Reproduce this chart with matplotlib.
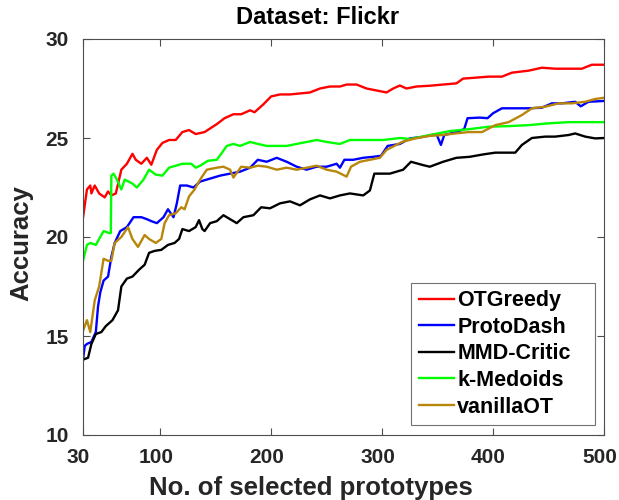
import matplotlib
matplotlib.use("Agg")
import matplotlib.pyplot as plt
import matplotlib.transforms as mtransforms

plt.rcParams['font.family'] = ['Liberation Sans', 'DejaVu Sans']
plt.rcParams['font.weight'] = 'bold'

# values
x_otgreedy = [30, 32, 34, 37, 38, 41, 45, 50, 53, 56, 60, 65, 70, 75, 78, 83, 88, 92, 97, 102, 108, 114,
              120, 126, 132, 140, 151, 158, 166, 173, 181, 185, 193, 200, 208, 217, 226, 235, 244, 253,
              262, 268, 277, 286, 295, 304, 310, 316, 322, 331, 343, 355, 367, 373, 385, 396, 408, 417,
              432, 444, 456, 468, 480, 489, 500]
y_otgreedy = [20.8, 21.6, 22.4, 22.6, 22.2, 22.6, 22.2, 22.0, 22.3, 22.1, 22.2, 23.4, 23.7, 24.2, 23.9,
              23.7, 24.0, 23.65, 24.4, 24.75, 24.9, 24.9, 25.3, 25.4, 25.2, 25.3, 25.7, 26.0, 26.2, 26.2,
              26.4, 26.3, 26.7, 27.1, 27.2, 27.2, 27.25, 27.3, 27.5, 27.6, 27.6, 27.7, 27.7, 27.5, 27.4,
              27.3, 27.5, 27.65, 27.5, 27.6, 27.64, 27.7, 27.76, 28.0, 28.05, 28.1, 28.1, 28.3, 28.4,
              28.55, 28.5, 28.5, 28.5, 28.7, 28.7]

x_protodash = [30, 32, 34, 38, 42, 44, 46, 49, 53, 56, 59, 64, 70, 76, 83, 88, 92, 97, 103, 107, 112, 115,
               118, 124, 130, 136, 145, 154, 163, 172, 181, 188, 196, 205, 214, 223, 232, 241, 250, 259,
               262, 266, 274, 283, 292, 299, 305, 316, 325, 337, 349, 353, 356, 367, 374, 377, 388, 395,
               400, 408, 420, 432, 444, 453, 462, 474, 479, 486, 500]
y_protodash = [13.6, 14.5, 14.6, 14.7, 15.2, 16.5, 17.2, 17.8, 18.0, 19.0, 19.7, 20.3, 20.5, 21.0, 21.0,
               20.9, 20.8, 20.7, 21.0, 21.4, 21.0, 21.7, 22.6, 22.6, 22.5, 22.8, 22.95, 23.1, 23.2, 23.3,
               23.5, 23.9, 23.8, 24.0, 23.8, 23.55, 23.4, 23.55, 23.55, 23.7, 23.5, 23.9, 23.9, 24.0,
               24.05, 24.1, 24.6, 24.7, 24.98, 25.06, 25.2, 24.65, 25.15, 25.3, 25.45, 26.0, 26.03, 26.0,
               26.25, 26.5, 26.5, 26.5, 26.53, 26.75, 26.75, 26.83, 26.6, 26.83, 26.87]

x_mmdcritic = [30, 35, 38, 42, 47, 51, 57, 62, 65, 70, 75, 81, 86, 90, 95, 101, 107, 113, 117, 120, 126,
               132, 135, 138, 140, 145, 151, 157, 163, 169, 175, 184, 191, 199, 208, 217, 226, 235, 244,
               253, 262, 271, 283, 289, 293, 299, 307, 316, 319, 326, 337, 343, 355, 367, 379, 391, 402,
               420, 426, 435, 447, 456, 468, 474, 483, 492, 500]
y_mmdcritic = [13.8, 13.9, 14.6, 15.1, 15.2, 15.5, 15.8, 16.3, 17.5, 17.9, 18.0, 18.35, 18.6, 19.2, 19.3,
               19.35, 19.6, 19.7, 19.9, 20.4, 20.3, 20.5, 20.85, 20.4, 20.3, 20.7, 20.8, 21.1, 20.9, 20.7,
               21.0, 21.1, 21.5, 21.45, 21.7, 21.8, 21.6, 21.9, 22.1, 21.95, 22.1, 22.2, 22.1, 22.35,
               23.2, 23.2, 23.2, 23.35, 23.4, 23.8, 23.63, 23.55, 23.8, 24.0, 24.05, 24.17, 24.26, 24.26,
               24.65, 25.0, 25.07, 25.07, 25.15, 25.23, 25.07, 24.98, 25.0]

x_kmedoids = [30, 34, 37, 42, 46, 49, 54, 55.5, 56, 58, 61, 65, 68, 75, 79, 85, 90, 96, 102, 108, 114,
              120, 128, 132, 136, 143, 151, 155, 160, 166, 172, 181, 188, 196, 205, 214, 223, 232, 241,
              250, 262, 271, 286, 301, 316, 325, 343, 361, 379, 396, 414, 432, 450, 468, 486, 500]
y_kmedoids = [18.7, 19.6, 19.7, 19.6, 20.0, 20.3, 20.2, 20.2, 23.1, 23.2, 22.9, 22.4, 22.9, 22.7, 22.5,
              22.9, 23.4, 23.15, 23.1, 23.5, 23.6, 23.7, 23.7, 23.5, 23.6, 23.85, 23.9, 24.2, 24.6, 24.7,
              24.6, 24.8, 24.7, 24.6, 24.6, 24.6, 24.7, 24.8, 24.9, 24.8, 24.7, 24.9, 24.9, 24.9, 25.0,
              24.95, 25.15, 25.35, 25.45, 25.57, 25.6, 25.65, 25.74, 25.8, 25.8, 25.8]

x_vanillaot = [30, 34, 37, 41, 45, 49, 53, 56, 59, 65, 71, 75, 80, 86, 90, 96, 101, 104, 108, 114, 119,
               122, 126, 131, 136, 142, 151, 157, 163, 166, 173, 181, 188, 196, 205, 214, 223, 232, 241,
               250, 259, 268, 272, 280, 289, 298, 304, 318, 330, 342, 354, 366, 378, 390, 402, 414, 426,
               435, 447, 459, 471, 483, 492, 500]
y_vanillaot = [15.2, 15.8, 15.2, 16.8, 17.5, 18.9, 18.8, 18.8, 19.7, 20.0, 20.5, 19.9, 19.5, 20.1, 19.9,
               19.7, 19.9, 20.7, 21.1, 21.2, 21.5, 21.4, 22.05, 22.4, 22.9, 23.4, 23.5, 23.55, 23.4, 23.0,
               23.55, 23.5, 23.6, 23.55, 23.4, 23.5, 23.4, 23.5, 23.6, 23.4, 23.3, 23.05, 23.55, 23.8,
               23.9, 24.0, 24.4, 24.8, 24.98, 25.1, 25.15, 25.23, 25.3, 25.3, 25.65, 25.8, 26.16, 26.5,
               26.58, 26.75, 26.75, 26.83, 26.97, 27.03]

x_ticks = [30, 100, 200, 300, 400, 500]
y_ticks = [10, 15, 20, 25, 30]

series = [
    ("OTGreedy", x_otgreedy, y_otgreedy, "#ff0000"),
    ("ProtoDash", x_protodash, y_protodash, "#0000ff"),
    ("MMD-Critic", x_mmdcritic, y_mmdcritic, "#000000"),
    ("k-Medoids", x_kmedoids, y_kmedoids, "#00ff00"),
    ("vanillaOT", x_vanillaot, y_vanillaot, "#b8860b"),
]

fig = plt.figure(figsize=(6.19, 5.0), dpi=100)
ax = fig.add_axes([0.1333, 0.13, 0.8425, 0.792])

for name, xs, ys, col in series:
    ax.plot(xs, ys, color=col, linewidth=1.7, label=name)

ax.set_xlim(30, 500)
ax.set_ylim(10, 30)
ax.set_xticks(x_ticks)
ax.set_yticks(y_ticks)
ax.tick_params(direction='in', length=5, width=0.8, top=True, right=True,
               labelsize=15, colors='0.3', labelcolor='0.15')
ax.tick_params(axis='x', pad=9.5)
ax.tick_params(axis='y', pad=10)
# x tick labels sit a few pixels left of their ticks in the reference
shift = mtransforms.ScaledTranslation(-0.045, 0, fig.dpi_scale_trans)
for lab in ax.get_xticklabels():
    lab.set_transform(lab.get_transform() + shift)
for lab in ax.get_xticklabels() + ax.get_yticklabels():
    lab.set_fontweight('bold')
for sp in ax.spines.values():
    sp.set_color('0.3')
    sp.set_linewidth(0.8)

ax.set_title("Dataset: Flickr", fontsize=17, fontweight='bold', x=0.45, pad=11)
ax.set_xlabel("No. of selected prototypes", fontsize=18.5, fontweight='bold', color='0.15')
ax.xaxis.set_label_coords(0.437, -0.104)
ax.set_ylabel("Accuracy", fontsize=18.5, fontweight='bold', color='0.15')
ax.yaxis.set_label_coords(-0.095, 0.484)

# legend box stretched to the reference width, text left aligned
leg = ax.legend(loc='lower left', bbox_to_anchor=(0.63, 0.025, 0.353, 0.35), mode='expand',
                fontsize=15.5, frameon=True, fancybox=False, handlelength=1.65,
                handletextpad=0.15, labelspacing=0.26, borderpad=0.35, borderaxespad=0)
leg.get_frame().set_edgecolor('0.3')
leg.get_frame().set_linewidth(0.8)
for t in leg.get_texts():
    t.set_fontweight('bold')

fig.savefig("out.png", dpi=100)
